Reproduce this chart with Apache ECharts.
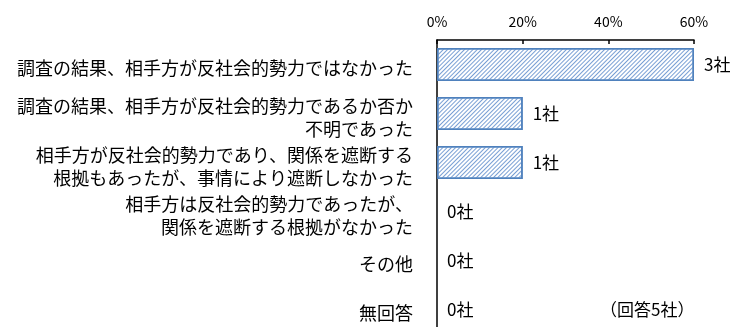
<!DOCTYPE html>
<html>
<head>
<meta charset="utf-8">
<script src="https://cdn.jsdelivr.net/npm/echarts@6/dist/echarts.min.js"></script>
<style>
  html, body { margin: 0; padding: 0; background: #fff; }
  #chart { width: 734px; height: 327px; }
</style>
</head>
<body>
<div id="chart"></div>
<script>
const categories = [
  "調査の結果、相手方が反社会的勢力ではなかった",
  "調査の結果、相手方が反社会的勢力であるか否か\n不明であった",
  "相手方が反社会的勢力であり、関係を遮断する\n根拠もあったが、事情により遮断しなかった",
  "相手方は反社会的勢力であったが、\n関係を遮断する根拠がなかった",
  "その他",
  "無回答"
];
const percents = [60, 20, 20, 0, 0, 0];
const counts = [3, 1, 1, 0, 0, 0];
const note = "（回答5社）";

const font = '"Noto Sans CJK JP", "Noto Sans", sans-serif';
const chart = echarts.init(document.getElementById("chart"));

// no border on empty bars, otherwise a blue line sits on the axis
const barData = percents.map((v) => ({
  value: v,
  itemStyle: v === 0 ? { borderWidth: 0 } : {}
}));

// the category texts sit a few px below the bar centres in the original,
// so they get their own grid shifted down a little
chart.setOption({
  animation: false,
  grid: [
    { left: 437, top: 40, width: 257, height: 294, outerBoundsMode: "none" },
    { left: 437, top: 44, width: 257, height: 294, outerBoundsMode: "none" }
  ],
  xAxis: [{
    type: "value",
    position: "top",
    min: 0,
    max: 60,
    interval: 20,
    axisLine: { show: true, lineStyle: { color: "#000", width: 1.5 } },
    axisTick: { show: true, inside: true, length: 4, lineStyle: { color: "#000", width: 1.5 } },
    splitLine: { show: false },
    axisLabel: {
      formatter: "{value}%",
      color: "#000",
      fontSize: 14,
      fontFamily: font,
      margin: 11
    }
  }, {
    type: "value",
    gridIndex: 1,
    show: false
  }],
  yAxis: [{
    type: "category",
    inverse: true,
    data: categories,
    axisLine: { show: true, lineStyle: { color: "#000", width: 1.5 } },
    axisTick: { show: false },
    axisLabel: { show: false }
  }, {
    type: "category",
    gridIndex: 1,
    inverse: true,
    data: categories,
    axisLine: { show: false },
    axisTick: { show: false },
    axisLabel: {
      interval: 0,
      color: "#000",
      fontSize: 18,
      fontFamily: font,
      lineHeight: 23,
      margin: 24
    }
  }],
  series: [{
    type: "bar",
    data: barData,
    barWidth: 33,
    itemStyle: {
      color: "#ffffff",
      borderColor: "#4f81bd",
      borderWidth: 1.5,
      decal: {
        symbol: "rect",
        color: "#789fd4",
        dashArrayX: [1, 0],
        dashArrayY: [1, 2],
        rotation: -Math.PI / 4
      }
    },
    label: {
      show: true,
      position: "right",
      distance: 10,
      color: "#000",
      fontSize: 17,
      fontFamily: font,
      formatter: (p) => counts[p.dataIndex] + "社"
    }
  }],
  graphic: [{
    type: "text",
    left: 600,
    top: 301,
    style: { text: note, fill: "#000", fontSize: 17, fontFamily: font }
  }]
});
</script>
</body>
</html>
